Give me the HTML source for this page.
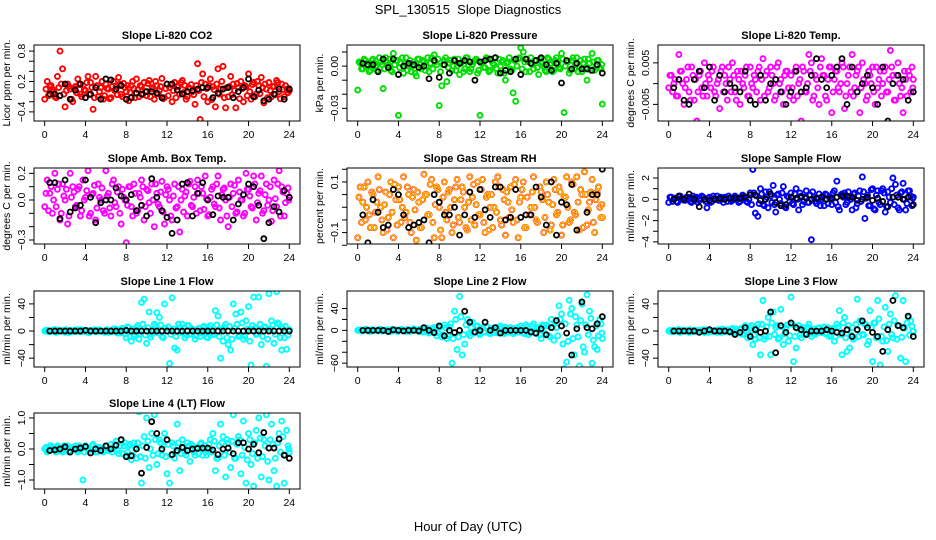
<!DOCTYPE html>
<html><head><meta charset="utf-8"><style>
html,body{margin:0;padding:0;background:#fff;}
svg{display:block;font-family:"Liberation Sans",sans-serif;}
</style></head><body>
<svg id="chart" width="936" height="540" viewBox="0 0 936 540" xmlns="http://www.w3.org/2000/svg">
<rect x="0" y="0" width="936" height="540" fill="#fff"/>
<text x="468" y="14" font-size="13" text-anchor="middle" xml:space="preserve">SPL_130515  Slope Diagnostics</text>
<text x="468" y="531" font-size="13" text-anchor="middle">Hour of Day (UTC)</text>
</svg>
<script>
const hoursColor=[0,0.25,0.5,0.75,1,1.25,1.5,1.75,2,2.25,2.5,2.75,3,3.25,3.5,3.75,4,4.25,4.5,4.75,5,5.25,5.5,5.75,6,6.25,6.5,6.75,7,7.25,7.5,7.75,8,8.25,8.5,8.75,9,9.25,9.5,9.75,10,10.25,10.5,10.75,11,11.25,11.5,11.75,12,12.25,12.5,12.75,13,13.25,13.5,13.75,14,14.25,14.5,14.75,15,15.25,15.5,15.75,16,16.25,16.5,16.75,17,17.25,17.5,17.75,18,18.25,18.5,18.75,19,19.25,19.5,19.75,20,20.25,20.5,20.75,21,21.25,21.5,21.75,22,22.25,22.5,22.75,23,23.25,23.5,23.75,24];
const hoursColorB=[0.125,0.375,0.625,0.875,1.125,1.375,1.625,1.875,2.125,2.375,2.625,2.875,3.125,3.375,3.625,3.875,4.125,4.375,4.625,4.875,5.125,5.375,5.625,5.875,6.125,6.375,6.625,6.875,7.125,7.375,7.625,7.875,8.125,8.375,8.625,8.875,9.125,9.375,9.625,9.875,10.125,10.375,10.625,10.875,11.125,11.375,11.625,11.875,12.125,12.375,12.625,12.875,13.125,13.375,13.625,13.875,14.125,14.375,14.625,14.875,15.125,15.375,15.625,15.875,16.125,16.375,16.625,16.875,17.125,17.375,17.625,17.875,18.125,18.375,18.625,18.875,19.125,19.375,19.625,19.875,20.125,20.375,20.625,20.875,21.125,21.375,21.625,21.875,22.125,22.375,22.625,22.875,23.125,23.375,23.625,23.875,23.95];
const hoursBlack=[0.5,1,1.5,2,2.5,3,3.5,4,4.5,5,5.5,6,6.5,7,7.5,8,8.5,9,9.5,10,10.5,11,11.5,12,12.5,13,13.5,14,14.5,15,15.5,16,16.5,17,17.5,18,18.5,19,19.5,20,20.5,21,21.5,22,22.5,23,23.5,24];
const xTicks=[0,4,8,12,16,20,24];

const co2All=[-0.15,0.2,0.1,0.05,-0.1,0.3,0.8,0.45,-0.3,0.15,0.05,-0.2,0.1,0.25,-0.05,0.12,0.02,0.3,0.18,-0.35,0.3,-0.1,0.08,-0.15,0.15,0.05,-0.12,0.2,0.1,0.28,-0.05,0.16,0.0,-0.18,0.12,0.06,0.25,-0.1,0.1,0.18,-0.08,0.22,0.05,-0.15,0.12,0.02,0.26,-0.12,0.15,0.08,-0.2,0.18,0.1,-0.05,0.22,0.12,-0.1,0.06,0.0,-0.25,0.55,-0.55,0.35,0.15,-0.2,0.25,0.1,-0.3,0.45,0.05,0.5,-0.32,-0.1,0.3,0.15,-0.32,0.08,0.2,-0.2,0.1,0.35,-0.15,0.18,-0.05,0.12,0.28,-0.22,0.05,0.18,-0.1,0.1,0.22,0.0,0.15,-0.1,0.05,0.02];
const co2AllB=[0.05,-0.08,0.12,0.0,-0.12,0.08,0.15,-0.05,0.02,0.1,-0.15,0.06,-0.02,0.14,-0.1,0.04,0.18,-0.06,0.08,-0.12,0.12,0.0,0.2,-0.08,0.06,-0.14,0.1,0.02,-0.06,0.15,-0.1,0.08,0.12,-0.02,0.2,-0.12,0.04,0.12,-0.06,0.0,0.16,-0.1,0.08,0.2,-0.04,0.1,-0.14,0.06,-0.08,0.14,0.02,-0.12,0.1,0.18,-0.02,-0.15,0.08,0.14,-0.06,0.12,0.02,0.18,-0.1,0.06,0.12,-0.16,0.04,0.15,-0.05,0.2,-0.12,0.08,0.1,-0.06,0.02,0.16,-0.14,0.06,0.12,-0.08,0.0,0.14,-0.1,0.2,-0.04,0.08,0.15,-0.12,0.02,0.1,-0.06,0.18,-0.14,0.04,0.12,-0.02,0.06];
const co2Hourly=[-0.05,-0.05,-0.08,0.15,-0.15,0.03,0.15,-0.12,-0.05,0.08,-0.15,0.25,0.23,0.05,0.12,-0.15,-0.12,-0.03,-0.05,0.0,0.0,-0.03,-0.12,0.15,0.15,0.03,-0.05,0.0,0.02,0.05,0.08,0.08,-0.12,-0.03,0.05,0.08,-0.12,0.0,0.08,0.25,-0.1,0.03,-0.18,-0.15,-0.05,0.05,-0.15,0.05];
const co2Ticks=[-0.4,-0.2,0,0.2,0.4,0.6,0.8];
const co2Labels=["-0.4","","","0.2","","","0.8"];

const presAll=[-0.017,0.002,-0.002,0.004,0.001,-0.003,0.005,0.0,-0.004,0.003,-0.016,0.006,0.001,-0.003,0.009,0.004,-0.035,0.002,-0.005,0.006,0.0,-0.004,0.003,-0.007,0.005,-0.002,0.003,0.0,-0.004,0.006,0.008,0.001,-0.028,-0.014,0.004,-0.011,0.002,-0.003,0.005,0.0,-0.006,0.003,-0.002,0.006,-0.004,0.001,0.004,-0.005,-0.035,0.003,-0.001,0.005,-0.003,0.002,0.006,-0.005,0.0,0.004,-0.010,0.003,-0.002,-0.019,-0.025,0.005,0.013,0.01,-0.004,0.003,0.006,-0.002,0.004,-0.006,0.003,0.0,-0.004,0.005,0.002,-0.003,0.006,-0.001,0.009,-0.033,0.003,-0.005,0.004,-0.002,0.006,0.0,-0.004,0.005,-0.01,0.002,0.009,-0.003,0.004,-0.001,-0.027];
const presAllB=[0.003,-0.002,0.005,0.0,-0.004,0.004,0.002,-0.003,0.006,0.001,-0.002,0.003,0.005,-0.004,0.001,0.004,-0.001,0.006,0.002,-0.003,0.004,0.0,-0.005,0.005,0.001,0.004,-0.003,0.006,0.002,-0.002,0.003,0.005,-0.004,0.001,0.006,-0.001,0.004,0.0,-0.003,0.005,0.002,-0.004,0.006,0.001,-0.002,0.003,0.005,-0.003,0.002,-0.001,0.006,-0.004,0.004,0.001,-0.002,0.005,0.003,-0.005,0.002,0.006,-0.003,0.004,0.0,0.006,-0.002,0.003,0.005,-0.004,0.001,0.004,-0.001,0.005,0.002,-0.003,0.006,0.001,-0.004,0.004,0.002,-0.002,0.005,0.0,0.003,-0.003,0.006,0.001,-0.004,0.004,0.002,-0.001,0.005,-0.003,0.003,0.0,0.004,-0.002,0.001];
const presHourly=[0.002,0.001,0.001,-0.004,0.005,-0.001,0.005,-0.006,0.0,0.002,0.001,-0.001,0.0,-0.009,0.004,-0.008,0.001,-0.005,0.004,0.002,0.004,0.003,-0.01,0.003,0.004,0.005,0.006,-0.005,-0.003,-0.004,0.005,-0.006,0.005,0.002,0.004,0.006,0.001,-0.003,0.002,-0.012,0.004,-0.002,0.002,-0.002,-0.002,-0.003,0.001,-0.005];
const presTicks=[-0.03,-0.02,-0.01,0,0.01];
const presLabels=["-0.03","","","0.00",""];

const tempAll=[-0.001,0.002,0.0,-0.003,0.007,0.003,-0.005,0.001,-0.002,0.004,-0.004,-0.009,0.002,-0.001,0.005,-0.003,0.001,0.003,-0.002,0.0,-0.006,0.004,0.002,-0.004,0.001,0.005,-0.002,0.003,-0.005,0.0,0.002,-0.003,0.004,-0.001,0.001,0.003,-0.004,0.006,0.002,-0.002,0.004,0.0,-0.003,0.005,0.001,-0.005,0.003,-0.001,0.002,-0.004,0.004,0.0,-0.009,0.003,-0.002,0.007,0.005,-0.003,0.001,-0.005,0.006,0.002,-0.004,0.004,-0.007,0.001,0.003,-0.002,0.005,-0.006,0.0,0.004,0.007,-0.001,0.003,-0.007,0.005,0.0,-0.003,0.002,0.004,-0.005,-0.001,0.003,0.0,0.004,-0.002,0.008,0.002,-0.004,0.005,-0.003,-0.007,0.001,0.003,-0.002,0.001];
const tempAllB=[0.002,-0.002,0.001,-0.003,0.003,0.0,-0.001,0.004,-0.004,0.002,0.001,-0.002,0.003,-0.003,0.0,0.002,-0.001,0.004,-0.003,0.001,0.003,-0.002,0.0,0.004,-0.002,0.002,-0.004,0.001,0.003,-0.001,0.004,-0.003,0.0,0.002,-0.002,0.004,0.001,-0.003,0.003,-0.001,0.002,-0.004,0.004,0.0,-0.002,0.002,0.003,-0.003,-0.001,0.003,-0.003,0.001,0.004,-0.002,0.0,0.003,-0.004,0.002,-0.001,0.004,0.002,-0.003,0.001,0.004,-0.002,0.003,-0.001,0.0,0.004,-0.003,0.002,-0.002,-0.003,0.002,0.004,-0.001,0.001,-0.004,0.003,0.0,-0.002,0.004,0.001,-0.003,0.003,-0.002,0.001,0.004,-0.004,0.002,0.0,-0.001,0.003,-0.003,0.002,0.004,-0.001];
const tempHourly=[-0.001,0.001,-0.004,-0.005,0.001,0.003,-0.001,0.004,-0.004,0.002,-0.002,0.0,-0.001,-0.002,0.003,-0.004,-0.005,0.002,-0.004,0.0,0.001,-0.002,-0.005,-0.002,0.003,-0.002,-0.001,0.002,0.006,0.001,-0.001,0.002,0.004,0.006,-0.005,0.004,-0.002,0.0,0.002,-0.001,-0.005,0.004,-0.009,0.0,0.002,0.001,-0.004,-0.002];
const tempTicks=[-0.005,0,0.005];
const tempLabels=["-0.005","","0.005"];

const ambAll=[-0.05,0.15,0.05,-0.1,0.2,0.08,-0.15,0.12,0.0,-0.18,0.2,0.1,-0.05,0.08,-0.12,0.15,0.02,0.22,-0.1,0.05,-0.15,0.12,0.0,-0.08,0.22,0.05,-0.12,0.15,-0.05,0.1,-0.18,0.02,-0.32,0.1,-0.05,0.12,-0.1,0.05,0.15,-0.15,0.08,-0.02,0.12,-0.2,0.05,-0.05,0.14,-0.18,0.1,0.0,-0.15,0.12,-0.05,-0.24,0.08,0.03,-0.12,0.14,-0.05,0.1,0.15,-0.08,0.05,0.18,-0.12,0.02,0.1,-0.05,0.18,-0.15,0.08,0.0,-0.2,0.12,0.05,-0.1,0.15,0.0,-0.12,0.2,0.08,-0.05,0.18,-0.15,0.05,0.18,-0.08,0.12,0.0,-0.16,0.15,-0.05,0.22,0.1,-0.12,0.05,0.02];
const ambAllB=[0.05,-0.08,0.1,0.0,-0.05,0.12,-0.1,0.03,0.08,-0.12,0.02,0.06,-0.04,0.1,-0.08,0.0,0.07,-0.12,0.04,0.11,-0.06,0.02,0.09,-0.1,0.03,-0.06,0.12,-0.02,0.06,-0.1,0.08,0.0,-0.04,0.1,-0.12,0.05,-0.08,0.02,0.1,-0.05,0.07,-0.1,0.0,0.12,-0.03,0.06,-0.09,0.04,0.08,-0.12,0.03,-0.06,0.1,0.0,-0.09,0.06,0.12,-0.04,0.02,-0.1,0.05,0.1,-0.07,0.01,-0.11,0.08,-0.03,0.12,-0.06,0.04,0.09,-0.12,0.02,-0.05,0.11,-0.09,0.06,0.0,-0.1,0.08,0.03,-0.06,0.12,-0.02,0.07,-0.1,0.04,-0.04,0.1,-0.08,0.01,0.12,-0.12,0.06,-0.02,0.09,0.0];
const ambHourly=[0.13,0.13,-0.14,0.15,-0.09,-0.06,-0.04,0.15,0.02,-0.17,-0.02,0.0,0.0,0.09,0.03,0.0,0.04,-0.08,-0.04,-0.12,0.16,0.02,-0.08,-0.13,-0.25,-0.15,0.12,0.13,-0.12,0.05,0.13,0.0,-0.11,0.03,0.02,0.02,-0.15,-0.03,0.04,0.12,0.1,-0.04,-0.29,-0.17,-0.05,-0.09,0.07,0.02];
const ambTicks=[-0.3,-0.2,-0.1,0,0.1,0.2];
const ambLabels=["-0.3","","","0.0","","0.2"];

const rhAll=[-0.12,0.08,0.02,-0.05,0.1,-0.08,0.05,-0.02,0.12,0.0,-0.1,0.06,-0.04,0.1,-0.12,0.03,0.08,-0.06,0.12,-0.02,0.05,-0.1,0.07,-0.13,0.02,-0.08,0.13,0.05,-0.03,0.11,-0.12,0.08,0.0,-0.12,0.1,-0.05,0.07,-0.1,0.03,0.11,-0.06,0.08,0.0,-0.09,0.12,0.04,-0.07,0.1,-0.03,0.11,-0.1,0.05,0.0,-0.08,0.1,0.12,-0.05,0.07,-0.11,0.02,0.08,-0.06,0.11,-0.12,0.04,0.1,-0.08,0.2,0.0,0.12,-0.05,-0.16,0.06,-0.1,0.1,0.02,-0.07,0.11,-0.03,0.08,-0.11,0.04,0.12,-0.06,0.1,-0.02,0.12,-0.09,0.05,0.14,-0.07,0.02,0.11,-0.1,0.06,0.0,-0.04];
const rhAllB=[0.04,-0.06,0.08,0.0,-0.03,0.06,-0.08,0.02,0.07,-0.05,0.01,-0.09,0.05,-0.02,0.09,-0.07,0.03,0.0,-0.04,0.08,-0.06,0.04,-0.01,0.06,-0.08,0.03,0.05,-0.03,0.09,-0.06,0.01,0.07,-0.09,0.04,-0.02,0.06,0.0,-0.07,0.08,-0.04,0.03,0.06,-0.08,0.02,-0.05,0.09,0.01,-0.03,0.07,-0.06,0.04,-0.09,0.05,0.0,-0.02,0.08,-0.07,0.03,0.06,-0.04,-0.01,0.09,-0.05,0.02,0.07,-0.08,0.04,-0.03,0.06,0.0,-0.06,0.08,0.03,-0.04,0.05,-0.09,0.01,0.07,-0.02,0.06,-0.07,0.04,0.0,-0.05,0.09,-0.03,0.02,0.07,-0.08,0.05,-0.01,0.06,-0.06,0.03,0.08,-0.04,0.01];
const rhHourly=[-0.03,-0.14,0.03,-0.02,-0.08,-0.07,0.07,0.05,-0.03,-0.08,-0.07,-0.06,-0.05,-0.14,0.05,0.02,-0.03,-0.03,0.0,-0.11,-0.03,0.06,-0.04,0.07,-0.01,-0.04,0.08,0.08,-0.05,-0.04,0.07,-0.04,-0.03,-0.03,0.08,0.04,-0.07,0.1,-0.11,0.02,0.01,0.09,-0.09,0.18,-0.02,0.05,0.05,0.15];
const rhTicks=[-0.15,-0.1,-0.05,0,0.05,0.1,0.15];
const rhLabels=["","-0.1","","","","0.1",""];

const sampleAll=[-0.3,0.2,0.0,-0.2,0.3,0.1,-0.1,0.2,0.0,-0.3,0.1,0.2,-0.1,0.3,0.0,-0.8,0.2,-0.2,0.1,0.3,-0.1,0.0,0.2,-0.2,0.1,-0.1,0.3,0.0,-0.2,0.4,0.1,-0.3,0.6,2.8,-1.3,-1.6,1.0,-0.5,0.7,-0.8,0.3,1.3,-1.2,0.5,-0.4,1.2,-0.8,0.2,0.6,-0.5,1.0,-1.0,0.3,-0.2,0.8,-0.3,-3.8,0.2,-0.4,0.5,0.0,-0.6,0.4,0.2,-0.5,0.8,1.7,-1.0,0.5,0.6,-0.3,0.2,-1.0,0.6,-0.4,0.8,2.1,-1.8,0.4,-0.6,1.0,-1.0,0.8,-0.5,1.0,-1.2,0.7,-0.3,2.0,1.4,-0.8,0.6,1.5,-1.0,0.8,0.3,0.2];
const sampleAllB=[0.2,-0.2,0.1,-0.3,0.3,0.0,-0.1,0.2,-0.2,0.3,0.1,-0.3,0.0,0.2,-0.2,0.1,-0.3,0.3,0.0,-0.1,0.2,-0.3,0.1,0.3,-0.2,0.0,0.2,-0.3,0.1,0.3,-0.2,0.0,-0.5,0.6,0.3,-0.4,0.5,-0.6,0.2,0.7,-0.3,-0.5,0.4,0.0,0.6,-0.7,0.3,-0.2,-0.4,0.5,0.0,0.6,-0.5,0.2,-0.3,0.4,0.7,-0.2,0.1,-0.6,0.3,0.5,-0.4,0.0,0.6,-0.3,-0.7,0.4,0.2,-0.5,0.7,0.0,0.5,-0.8,0.3,-0.2,0.7,0.1,-0.6,0.9,-0.9,0.4,-0.3,0.8,0.6,-0.7,0.2,1.0,-0.5,0.4,-1.0,0.7,0.0,-0.4,0.8,-0.6,0.1];
const sampleHourly=[0.0,0.3,0.0,0.5,0.0,-0.7,0.0,-0.1,0.0,0.1,0.0,0.1,0.1,0.1,0.2,0.4,0.4,-0.1,0.0,0.5,-0.3,-0.6,-0.5,0.2,0.1,0.2,0.1,0.0,0.1,0.2,0.0,0.1,0.2,0.3,0.3,0.2,-0.1,0.0,0.2,-0.1,0.1,-0.2,-0.7,0.2,0.2,0.0,0.2,-0.5];
const sampleTicks=[-4,-3,-2,-1,0,1,2];
const sampleLabels=["-4","","-2","","0","","2"];

const line1All=[0,1,-1,0,2,-1,0,1,-2,0,1,-1,0,2,-1,1,0,-2,1,0,-1,2,0,-1,1,-2,0,3,-1,2,-3,1,-10,5,-15,-8,5,-12,42,47,-18,28,-5,10,27,20,-8,40,0,-48,49,-25,-28,5,10,-10,8,-5,3,-12,0,-8,5,-3,-10,8,-5,30,22,-40,-15,10,-20,-28,40,25,-8,28,-12,15,36,-50,50,-5,50,-20,5,-52,55,15,-18,58,10,-28,-10,-27,2];
const line1AllB=[1,-1,0,2,-2,1,0,-1,2,-2,0,1,-1,0,2,-1,1,-2,0,2,-1,1,0,-2,2,0,-1,3,-3,1,4,-4,6,-8,3,-5,8,-4,10,-6,5,-9,2,7,-3,9,-10,4,6,-5,3,-8,10,-2,5,-6,8,-4,2,-7,4,-3,7,-9,5,0,-5,9,-8,3,6,-10,7,-12,4,10,-6,12,-8,3,-15,8,5,-4,10,-8,6,-12,3,9,-5,12,-10,4,7,-6,1];
const line1Hourly=[0,0,0,0,0,0,0,1,0,0,0,0,0,0,0,1,0,0,0,0,0,0,0,0,0,0,0,0,0,0,0,0,0,0,0,0,0,0,0,0,0,0,0,0,0,0,0,0];
const line1Ticks=[-40,-20,0,20,40];
const line1Labels=["-40","","0","","40"];

const line2All=[0,1,-1,2,0,-2,1,0,-1,2,-1,0,1,-2,0,1,-1,2,0,-2,1,-1,3,0,-2,2,-3,4,-5,3,5,-10,8,-12,10,-15,6,-60,35,-35,62,-45,-25,20,-10,15,-5,8,-8,5,-3,6,-6,4,0,-5,8,-4,6,-3,5,-6,4,-3,8,-5,10,-8,-4,12,-6,5,-15,8,10,-10,20,-18,5,45,30,-70,-58,55,40,-45,10,-65,48,-40,65,35,-60,-30,-35,20,-15];
const line2AllB=[1,-1,0,2,-2,1,0,-1,2,-1,0,1,-1,2,0,-2,1,0,-1,2,-2,1,0,-1,2,-3,1,3,-4,2,4,-5,6,-8,5,-10,12,-15,20,-12,25,-8,10,-6,5,-4,8,-5,4,-3,6,-5,3,-4,5,-2,4,-6,3,-3,2,-4,5,-3,4,-6,6,-4,8,-5,3,-8,10,-6,8,-12,5,15,-10,20,-25,12,-20,30,-15,25,-12,18,-30,10,-8,22,-18,8,-10,12,-5];
const line2Hourly=[0,0,0,0,0,-2,1,0,-1,0,0,-1,5,0,-4,8,-10,0,-4,0,35,15,-3,0,15,0,5,-5,0,0,0,0,0,-3,-5,3,-8,5,18,8,-5,-45,3,52,5,3,12,25];
const line2Ticks=[-60,-40,-20,0,20,40];
const line2Labels=["-60","","","0","","40"];

const line3All=[0,-1,1,0,2,-1,0,1,-2,0,1,-1,0,1,-2,2,0,-1,1,-2,0,3,-1,2,-2,4,0,-3,2,-5,8,-10,5,-20,-12,10,-35,45,-8,20,-35,28,5,-12,32,-20,5,-15,50,-45,-25,8,-10,5,-5,10,-8,3,-3,5,-2,6,-4,-8,3,-15,10,30,-35,20,-30,-25,5,-10,47,15,-5,10,-20,30,-45,12,45,-50,-15,35,-30,25,-10,52,8,-40,45,-45,20,15,0];
const line3AllB=[1,-1,0,2,-2,1,0,-1,2,-1,0,1,-1,2,0,-2,1,0,-1,2,-2,1,0,-1,2,-2,3,-3,4,-4,5,-5,8,-6,4,-10,10,-12,6,-8,12,-5,8,-10,6,-4,9,-7,10,-8,4,-6,5,-3,6,-4,3,-5,4,-2,3,-4,5,-6,4,-8,6,-5,12,-10,8,-6,-12,10,-8,14,-6,9,-15,5,12,-10,18,-8,6,-14,10,-5,15,-12,8,-9,4,12,-6,7,0];
const line3Hourly=[0,0,0,0,0,-2,0,2,0,0,0,-1,-5,-2,5,-8,2,-2,0,28,-32,8,-2,12,5,2,-5,0,0,0,2,0,-2,-3,2,-8,2,15,5,-2,-8,-30,2,45,8,5,22,-8];
const line3Ticks=[-40,-20,0,20,40];
const line3Labels=["-40","","0","","40"];

const line4All=[0.0,-0.1,0.1,0.05,-0.05,0.1,0.0,-0.1,0.05,0.1,-0.05,0.0,0.1,-0.1,0.05,-1.0,0.1,-0.05,0.0,0.15,-0.1,0.05,0.0,-0.1,0.1,-0.05,0.15,0.0,0.25,-0.15,0.3,0.1,-0.2,0.1,-0.35,0.2,-0.3,1.2,-1.1,0.4,1.0,-0.6,0.5,1.1,-0.5,0.3,-0.2,0.5,-0.8,-1.1,0.2,-0.3,0.8,-0.7,0.3,-0.1,0.2,-0.4,0.1,-0.2,0.0,0.15,-0.2,0.1,-0.1,0.3,0.5,-0.7,-0.3,0.8,0.4,-0.9,0.2,-0.6,1.1,-0.3,0.4,-0.8,0.9,-1.1,0.5,-0.5,-1.2,0.6,1.0,-0.9,0.3,1.1,-1.0,0.8,-0.7,-1.2,0.5,0.9,-1.1,0.6,-0.1];
const line4AllB=[0.05,-0.05,0.1,0.0,-0.1,0.05,-0.05,0.1,0.0,-0.1,0.05,0.0,-0.05,0.1,0.0,-0.1,0.05,-0.05,0.1,0.0,-0.1,0.05,0.0,-0.05,0.1,0.0,-0.1,0.15,-0.05,0.1,-0.15,0.2,-0.1,0.15,-0.2,0.05,0.2,-0.25,0.1,-0.3,0.25,0.0,-0.2,0.3,-0.15,0.2,0.1,-0.25,0.15,-0.2,0.1,-0.1,0.2,-0.15,0.05,-0.2,0.1,0.15,-0.1,0.05,-0.15,0.2,0.0,-0.2,0.15,-0.1,0.25,-0.3,0.1,0.2,-0.2,0.3,-0.1,0.25,-0.3,0.15,0.3,-0.2,0.05,-0.35,0.3,-0.15,0.2,-0.3,0.35,-0.25,0.1,-0.4,0.3,0.15,-0.3,0.2,-0.1,0.4,-0.2,0.1,0.0];
const line4Hourly=[-0.05,-0.03,0.0,0.07,-0.1,0.0,0.03,0.08,-0.13,0.0,-0.05,0.1,0.0,0.12,0.3,-0.25,-0.22,0.0,-0.78,0.05,0.88,0.5,0.0,0.3,-0.18,-0.05,0.05,-0.05,0.0,0.02,0.03,0.03,-0.03,-0.18,0.0,0.03,-0.15,0.2,0.2,0.0,0.15,-0.12,0.53,0.03,0.03,0.32,-0.2,-0.3];
const line4Ticks=[-1,-0.5,0,0.5,1];
const line4Labels=["-1.0","","0.0","","1.0"];

const NS="http://www.w3.org/2000/svg";
const svg=document.getElementById('chart');
function mk(tag,attrs,parent){const e=document.createElementNS(NS,tag);for(const k in attrs)e.setAttribute(k,attrs[k]);(parent||svg).appendChild(e);return e;}

const colL=[34,347,658], colW=266, rowT=[45,168,291,413], rowH=76;
const panels=[
 {id:'co2',title:'Slope Li-820 CO2',yl:'Licor ppm per min.',all:co2All,allB:co2AllB,hr:co2Hourly,ticks:co2Ticks,labels:co2Labels,ymin:-0.58,ymax:0.92,col:'#ff0000',c:0,r:0},
 {id:'pressure',title:'Slope Li-820 Pressure',yl:'kPa per min.',all:presAll,allB:presAllB,hr:presHourly,ticks:presTicks,labels:presLabels,ymin:-0.039,ymax:0.015,col:'#00dd00',c:1,r:0},
 {id:'li820-temp',title:'Slope Li-820 Temp.',yl:'degrees C per min.',all:tempAll,allB:tempAllB,hr:tempHourly,ticks:tempTicks,labels:tempLabels,ymin:-0.009,ymax:0.0093,col:'#ff00ff',c:2,r:0},
 {id:'amb-box-temp',title:'Slope Amb. Box Temp.',yl:'degrees C per min.',all:ambAll,allB:ambAllB,hr:ambHourly,ticks:ambTicks,labels:ambLabels,ymin:-0.33,ymax:0.24,col:'#ff00ff',c:0,r:1},
 {id:'gas-stream-rh',title:'Slope Gas Stream RH',yl:'percent per min.',all:rhAll,allB:rhAllB,hr:rhHourly,ticks:rhTicks,labels:rhLabels,ymin:-0.145,ymax:0.155,col:'#ff2000',col2:'#ffd000',c:1,r:1},
 {id:'sample-flow',title:'Slope Sample Flow',yl:'ml/min per min.',all:sampleAll,allB:sampleAllB,hr:sampleHourly,ticks:sampleTicks,labels:sampleLabels,ymin:-4.2,ymax:2.94,col:'#0000ff',c:2,r:1},
 {id:'line1-flow',title:'Slope Line 1 Flow',yl:'ml/min per min.',all:line1All,allB:line1AllB,hr:line1Hourly,ticks:line1Ticks,labels:line1Labels,ymin:-53,ymax:59,col:'#00ffff',c:0,r:2},
 {id:'line2-flow',title:'Slope Line 2 Flow',yl:'ml/min per min.',all:line2All,allB:line2AllB,hr:line2Hourly,ticks:line2Ticks,labels:line2Labels,ymin:-67,ymax:72,col:'#00ffff',c:1,r:2},
 {id:'line3-flow',title:'Slope Line 3 Flow',yl:'ml/min per min.',all:line3All,allB:line3AllB,hr:line3Hourly,ticks:line3Ticks,labels:line3Labels,ymin:-53,ymax:59,col:'#00ffff',c:2,r:2},
 {id:'line4-flow',title:'Slope Line 4 (LT) Flow',yl:'ml/min per min.',all:line4All,allB:line4AllB,hr:line4Hourly,ticks:line4Ticks,labels:line4Labels,ymin:-1.29,ymax:1.16,col:'#00ffff',c:0,r:3}
];

panels.forEach(p=>{
  const L=colL[p.c], T=rowT[p.r], W=colW, H=rowH, R=L+W, B=T+H;
  const g=mk('g',{});
  
  
  const xs=h=>L+10.7+(h/24)*(W-21.4);
  const ys=v=>B-(v-p.ymin)/(p.ymax-p.ymin)*H;
  const clip='clip-'+p.id;
  const cp=mk('clipPath',{id:clip},g); mk('rect',{x:L,y:T,width:W,height:H},cp);
  const pts=mk('g',{'clip-path':'url(#'+clip+')'},g);
  
  
  const sets=[[hoursColor,p.all],[hoursColorB,p.allB]];
  const layers=p.col2?[[p.col,1.9],[p.col2,1.0]]:[[p.col,1.9]];
  layers.forEach(([c,w])=>{
    sets.forEach(([hx,vals])=>{
      const n=Math.min(vals.length,hx.length);
      for(let i=0;i<n;i++){
        const e=mk('circle',{cx:xs(hx[i]),cy:ys(vals[i]),r:2.5,fill:'none',stroke:c,'stroke-width':w},pts);
        
        
      }
    });
  });
  const m=Math.min(p.hr.length,hoursBlack.length);
  for(let i=0;i<m;i++){
    const e=mk('circle',{cx:xs(hoursBlack[i]),cy:ys(p.hr[i]),r:2.5,fill:'none',stroke:'#000','stroke-width':1.8},pts);
    
    
  }
  const box=mk('rect',{x:L,y:T,width:W,height:H,fill:'none',stroke:'#000','stroke-width':1},g);
  
  
  const t=mk('text',{x:L+W/2,y:T-6,'font-size':11,'font-weight':'bold','text-anchor':'middle'},g);
  t.textContent=p.title;
  
  
  xTicks.forEach(v=>{
    const x=xs(v);
    mk('line',{x1:x,y1:B,x2:x,y2:B+5,stroke:'#000'},g);
    const tl=mk('text',{x:x,y:B+17,'font-size':10.5,'text-anchor':'middle'},g);
    tl.textContent=v;
    
    
  });
  mk('line',{x1:xs(0),y1:B,x2:xs(24),y2:B,stroke:'#000'},g);
  p.ticks.forEach((v,i)=>{
    const y=ys(v);
    mk('line',{x1:L,y1:y,x2:L-5,y2:y,stroke:'#000'},g);
    if(p.labels[i]){
      const tl=mk('text',{x:L-9,y:y,'font-size':10.5,'text-anchor':'middle',transform:'rotate(-90 '+(L-9)+' '+y+')'},g);
      tl.textContent=p.labels[i].replace('-','\u2212');
      
      
    }
  });
  const ya=mk('text',{x:L-24,y:T+H/2,'font-size':10.5,'text-anchor':'middle',transform:'rotate(-90 '+(L-24)+' '+(T+H/2)+')'},g);
  ya.textContent=p.yl;
  
  
});
</script>
</body></html>
